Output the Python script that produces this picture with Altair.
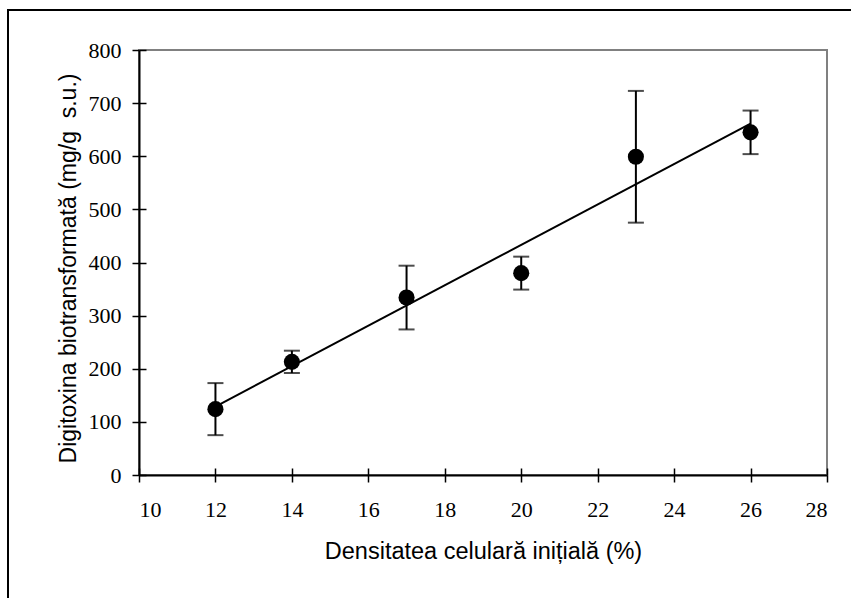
import altair as alt
import pandas as pd

# data
dens = [12, 14, 17, 20, 23, 26]
digit = [124, 213, 334, 380, 599, 645]
err = [49, 21, 60, 31, 124, 41]

x_ticks = [10, 12, 14, 16, 18, 20, 22, 24, 26, 28]
y_ticks = [0, 100, 200, 300, 400, 500, 600, 700, 800]

df = pd.DataFrame({"x": dens, "y": digit, "e": err})
df["lo"] = df["y"] - df["e"]
df["hi"] = df["y"] + df["e"]

W, H = 688, 425
X_TITLE = "Densitatea celulară inițială (%)"
Y_TITLE = "Digitoxina biotransformată (mg/g\u00a0 s.u.)"

xscale = alt.Scale(domain=[10, 28], nice=False, zero=False)
yscale = alt.Scale(domain=[0, 800], nice=False)

serif = "Liberation Serif"
sans = "Liberation Sans"

x_axis = alt.Axis(values=x_ticks, title=X_TITLE, grid=False, orient="bottom",
                  labelFont=serif, labelFontSize=22, labelColor="black",
                  labelPadding=17, tickSize=7, tickColor="black", tickWidth=1.5,
                  domainColor="black", domainWidth=2,
                  titleFont=sans, titleFontSize=23.5, titleFontWeight="normal",
                  titleColor="black", titlePadding=19)
y_axis = alt.Axis(values=y_ticks, title=Y_TITLE, grid=False, orient="left",
                  labelFont=serif, labelFontSize=22, labelColor="black",
                  labelPadding=11, tickSize=7, tickColor="black", tickWidth=1.5,
                  domainColor="black", domainWidth=2,
                  titleFont=sans, titleFontSize=23, titleFontWeight="normal",
                  titleColor="black", titlePadding=8, titleY=218)

# inner halves of the crossing ticks
x_axis_in = alt.Axis(values=x_ticks, title=None, grid=False, orient="top",
                     offset=-H, labels=False, domain=False,
                     tickSize=7, tickColor="black", tickWidth=1.5)
y_axis_in = alt.Axis(values=y_ticks, title=None, grid=False, orient="right",
                     offset=-W, labels=False, domain=False,
                     tickSize=7, tickColor="black", tickWidth=1.5)

base = alt.Chart(df)

border = base.mark_rect(filled=False, stroke="black", strokeWidth=2, clip=False).encode(
    x=alt.value(-131), x2=alt.value(W + 200), y=alt.value(-40), y2=alt.value(H + 300)
).transform_filter("datum.x == 12")

inner = base.mark_point(opacity=0).encode(
    x=alt.X("x:Q", scale=xscale, axis=x_axis_in),
    y=alt.Y("y:Q", scale=yscale, axis=y_axis_in),
)

bars = base.mark_rule(color="black", strokeWidth=2).encode(
    x=alt.X("x:Q", scale=xscale, axis=x_axis),
    y=alt.Y("lo:Q", scale=yscale, axis=y_axis),
    y2="hi:Q",
)
cap_lo = base.mark_tick(color="black", orient="horizontal", size=16, thickness=2).encode(
    x=alt.X("x:Q", scale=xscale, axis=None), y=alt.Y("lo:Q", scale=yscale, axis=None)
)
cap_hi = base.mark_tick(color="black", orient="horizontal", size=16, thickness=2).encode(
    x=alt.X("x:Q", scale=xscale, axis=None), y=alt.Y("hi:Q", scale=yscale, axis=None)
)
trend = base.transform_regression("x", "y", method="linear").mark_line(
    color="black", strokeWidth=2
).encode(x=alt.X("x:Q", scale=xscale, axis=None), y=alt.Y("y:Q", scale=yscale, axis=None))
points = base.mark_circle(color="black", opacity=1, size=260).encode(
    x=alt.X("x:Q", scale=xscale, axis=None), y=alt.Y("y:Q", scale=yscale, axis=None)
)

chart = alt.layer(bars, inner, cap_lo, cap_hi, trend, points, border).resolve_axis(
    x="independent", y="independent"
).properties(
    width=W, height=H,
    autosize=alt.AutoSizeParams(type="none"),
    padding={"left": 139, "top": 50, "right": 24, "bottom": 123},
    background="white",
).configure_view(stroke="#808080", strokeWidth=2)

chart.save("out.html", embed_options={"renderer": "svg", "actions": False})
